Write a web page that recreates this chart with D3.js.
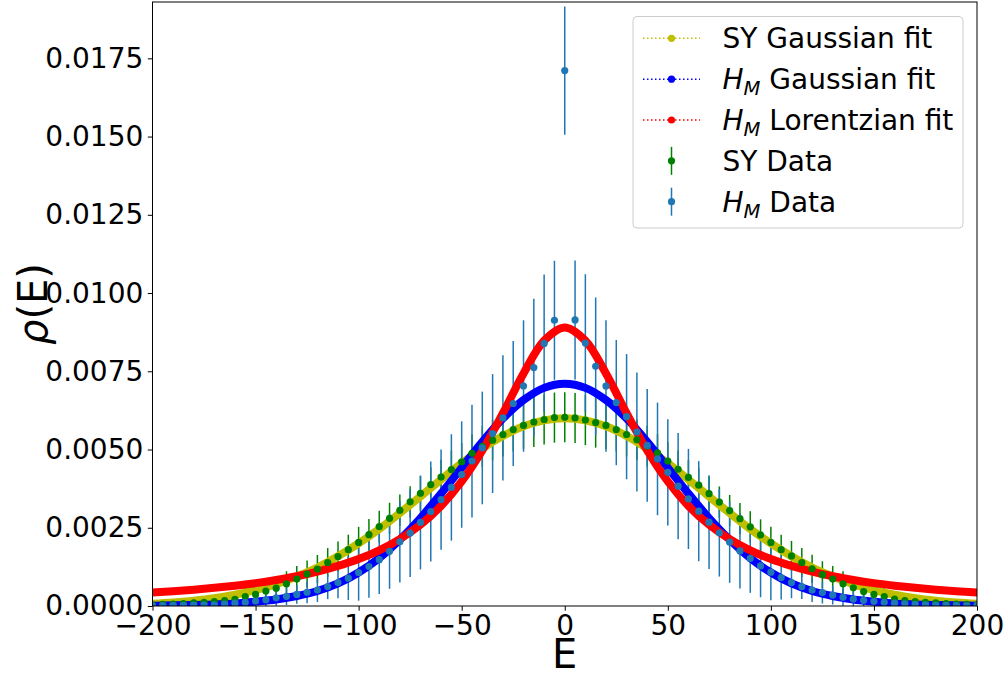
<!DOCTYPE html>
<html>
<head>
<meta charset="utf-8">
<script src="https://cdn.jsdelivr.net/npm/d3@7"></script>
<style>
  body { margin: 0; background: #fff; }
  svg text { font-family: "DejaVu Sans", sans-serif; fill: #000; }
</style>
</head>
<body>
<div id="vis"></div>
<script>
////////////////////////////////////////
////////////// Data ////////////////////
////////////////////////////////////////

// data points every 5 in E, fit curves sampled every 10
const dataE = d3.range(-200, 201, 5)
const fitE = d3.range(-200, 201, 10)

const syData = [
  0.00004, 0.00005, 0.00006, 0.00008, 0.00010, 0.00012, 0.00014, 0.00017, 0.00021, 0.00030,
  0.00037, 0.00048, 0.00057, 0.00071, 0.00086, 0.00102, 0.00118, 0.00139, 0.00158, 0.00180,
  0.00203, 0.00228, 0.00254, 0.00280, 0.00306, 0.00333, 0.00360, 0.00388, 0.00412, 0.00436,
  0.00461, 0.00488, 0.00510, 0.00530, 0.00548, 0.00564, 0.00577, 0.00588, 0.00596, 0.00602,
  0.00603,
  0.00601, 0.00594, 0.00586, 0.00577, 0.00564, 0.00548, 0.00531, 0.00511, 0.00489, 0.00463,
  0.00437, 0.00411, 0.00386, 0.00359, 0.00332, 0.00305, 0.00279, 0.00253, 0.00227, 0.00203,
  0.00180, 0.00160, 0.00139, 0.00119, 0.00100, 0.00086, 0.00071, 0.00058, 0.00046, 0.00037,
  0.00030, 0.00022, 0.00017, 0.00014, 0.00012, 0.00010, 0.00008, 0.00006, 0.00005, 0.00004
]

const hmData = [
  0.00001, 0.00001, 0.00002, 0.00002, 0.00003, 0.00003, 0.00004, 0.00006, 0.00009, 0.00012,
  0.00016, 0.00020, 0.00026, 0.00031, 0.00037, 0.00044, 0.00051, 0.00062, 0.00075, 0.00089,
  0.00107, 0.00126, 0.00148, 0.00175, 0.00205, 0.00233, 0.00267, 0.00302, 0.00340, 0.00379,
  0.00420, 0.00463, 0.00505, 0.00551, 0.00601, 0.00647, 0.00703, 0.00762, 0.00839, 0.00913,
  0.01711,
  0.00914, 0.00840, 0.00766, 0.00703, 0.00650, 0.00605, 0.00556, 0.00513, 0.00470, 0.00427,
  0.00383, 0.00342, 0.00303, 0.00268, 0.00234, 0.00204, 0.00176, 0.00152, 0.00128, 0.00108,
  0.00091, 0.00075, 0.00062, 0.00051, 0.00043, 0.00035, 0.00028, 0.00022, 0.00018, 0.00015,
  0.00012, 0.00009, 0.00007, 0.00005, 0.00004, 0.00003, 0.00002, 0.00002, 0.00001, 0.00001
]

// error half-lengths by |E| = 0, 5, ..., 200
const syErr = [
  0.00080, 0.00080, 0.00080, 0.00080, 0.00075, 0.00070, 0.00070, 0.00065, 0.00065, 0.00060,
  0.00060, 0.00060, 0.00055, 0.00055, 0.00055, 0.00050, 0.00050, 0.00050, 0.00050, 0.00050,
  0.00050, 0.00048, 0.00048, 0.00046, 0.00045, 0.00043, 0.00042, 0.00040, 0.00038, 0.00035,
  0.00032, 0.00028, 0.00025, 0.00022, 0.00020, 0.00017, 0.00015, 0.00012, 0.00010, 0.00008,
  0.00006
]

const hmErr = [
  0.00205, 0.00190, 0.00220, 0.00220, 0.00210, 0.00200, 0.00200, 0.00190, 0.00180, 0.00180,
  0.00170, 0.00170, 0.00160, 0.00160, 0.00150, 0.00140, 0.00130, 0.00120, 0.00110, 0.00100,
  0.00090, 0.00070, 0.00050, 0.00040, 0.00038, 0.00035, 0.00030, 0.00028, 0.00025, 0.00022,
  0.00020, 0.00018, 0.00015, 0.00012, 0.00010, 0.00008, 0.00007, 0.00006, 0.00005, 0.00004,
  0.00003
]

const syGaussFit = [
  0.00007, 0.00011, 0.00017, 0.00025, 0.00036, 0.00051, 0.00070, 0.00094, 0.00123, 0.00159,
  0.00200, 0.00246, 0.00297, 0.00350, 0.00404, 0.00456, 0.00503, 0.00543, 0.00574, 0.00593,
  0.00600,
  0.00593, 0.00574, 0.00543, 0.00503, 0.00456, 0.00404, 0.00350, 0.00297, 0.00246, 0.00200,
  0.00159, 0.00123, 0.00094, 0.00070, 0.00051, 0.00036, 0.00025, 0.00017, 0.00011, 0.00007
]

const hmGaussFit = [
  0.00001, 0.00002, 0.00003, 0.00005, 0.00008, 0.00014, 0.00021, 0.00032, 0.00048, 0.00072,
  0.00107, 0.00153, 0.00212, 0.00281, 0.00359, 0.00442, 0.00525, 0.00599, 0.00658, 0.00697,
  0.00710,
  0.00697, 0.00658, 0.00599, 0.00525, 0.00442, 0.00359, 0.00281, 0.00212, 0.00153, 0.00107,
  0.00072, 0.00048, 0.00032, 0.00021, 0.00014, 0.00008, 0.00005, 0.00003, 0.00002, 0.00001
]

const hmLorentzFit = [
  0.00043, 0.00047, 0.00052, 0.00058, 0.00065, 0.00073, 0.00083, 0.00095, 0.00110, 0.00128,
  0.00150, 0.00178, 0.00214, 0.00260, 0.00320, 0.00398, 0.00497, 0.00616, 0.00743, 0.00848,
  0.00890,
  0.00848, 0.00743, 0.00616, 0.00497, 0.00398, 0.00320, 0.00260, 0.00214, 0.00178, 0.00150,
  0.00128, 0.00110, 0.00095, 0.00083, 0.00073, 0.00065, 0.00058, 0.00052, 0.00047, 0.00043
]

const xTicks = [-200, -150, -100, -50, 0, 50, 100, 150, 200]
const yTicks = [0, 0.0025, 0.005, 0.0075, 0.01, 0.0125, 0.015, 0.0175]

////////////////////////////////////////
////////////// SVG Setup ///////////////
////////////////////////////////////////

const W = 1008, H = 677
const plot = { left: 152.5, right: 977, top: 2, bottom: 606 }
const fs = 28

const svg = d3.select('#vis').append('svg')
  .attr('width', W)
  .attr('height', H)

svg.append('defs').append('clipPath').attr('id', 'clip')
  .append('rect')
  .attr('x', plot.left).attr('y', plot.top)
  .attr('width', plot.right - plot.left).attr('height', plot.bottom - plot.top)

////////////////////////////////////////
////////////// Scales //////////////////
////////////////////////////////////////

const x = d3.scaleLinear().domain([-200, 200]).range([plot.left, plot.right])
const y = d3.scaleLinear().domain([0, 0.0193]).range([plot.bottom, plot.top])

const minus = d => d < 0 ? '\u2212' + Math.abs(d) : String(d)

////////////////////////////////////////
////////////// Marks ///////////////////
////////////////////////////////////////

const g = svg.append('g').attr('clip-path', 'url(#clip)')

const sy = dataE.map((e, i) => ({ e, v: syData[i], err: syErr[Math.abs(e) / 5] }))
const hm = dataE.map((e, i) => ({ e, v: hmData[i], err: hmErr[Math.abs(e) / 5] }))

// error bars under the fits
g.selectAll('.syBar').data(sy).join('line')
  .attr('x1', d => x(d.e)).attr('x2', d => x(d.e))
  .attr('y1', d => y(d.v - d.err)).attr('y2', d => y(d.v + d.err))
  .attr('stroke', '#008000').attr('stroke-width', 1.5)

g.selectAll('.hmBar').data(hm).join('line')
  .attr('x1', d => x(d.e)).attr('x2', d => x(d.e))
  .attr('y1', d => y(d.v - d.err)).attr('y2', d => y(d.v + d.err))
  .attr('stroke', '#1f77b4').attr('stroke-width', 1.5)

const line = d3.line()
  .x((d, i) => x(fitE[i]))
  .y(d => y(d))
  .curve(d3.curveCatmullRom)

const fits = [
  { values: syGaussFit, color: '#bfbf00' },
  { values: hmGaussFit, color: '#0000ff' },
  { values: hmLorentzFit, color: '#ff0000' }
]

g.selectAll('.fit').data(fits).join('path')
  .attr('d', d => line(d.values))
  .attr('fill', 'none')
  .attr('stroke', d => d.color)
  .attr('stroke-width', 8)
  .attr('stroke-linecap', 'round')
  .attr('stroke-linejoin', 'round')

g.selectAll('.syDot').data(sy).join('circle')
  .attr('cx', d => x(d.e)).attr('cy', d => y(d.v))
  .attr('r', 3.6).attr('fill', '#008000')

g.selectAll('.hmDot').data(hm).join('circle')
  .attr('cx', d => x(d.e)).attr('cy', d => y(d.v))
  .attr('r', 3.6).attr('fill', '#1f77b4')

////////////////////////////////////////
////////////// Axes ////////////////////
////////////////////////////////////////

const xAxis = svg.append('g')
  .attr('transform', `translate(0, ${plot.bottom})`)
  .call(d3.axisBottom(x).tickValues(xTicks).tickFormat(minus).tickSize(4.7).tickPadding(4.5))
const yAxis = svg.append('g')
  .attr('transform', `translate(${plot.left}, 0)`)
  .call(d3.axisLeft(y).tickValues(yTicks).tickFormat(d3.format('.4f')).tickSize(4.7).tickPadding(4.5))

for (const ax of [xAxis, yAxis]) {
  ax.select('.domain').remove()
  ax.selectAll('text').attr('font-size', fs).attr('font-family', 'DejaVu Sans')
  ax.selectAll('line').attr('stroke', '#000').attr('stroke-width', 1)
}

svg.append('rect')
  .attr('x', plot.left).attr('y', plot.top)
  .attr('width', plot.right - plot.left).attr('height', plot.bottom - plot.top)
  .attr('fill', 'none').attr('stroke', '#000').attr('stroke-width', 1)

svg.append('text')
  .attr('x', (plot.left + plot.right) / 2).attr('y', 668)
  .attr('text-anchor', 'middle').attr('font-size', 40)
  .text('E')

svg.append('text')
  .attr('transform', `translate(47, ${(plot.top + plot.bottom) / 2}) rotate(-90)`)
  .attr('text-anchor', 'middle').attr('font-size', 40)
  .call(t => {
    t.append('tspan').attr('font-style', 'italic').text('\u03c1')
    t.append('tspan').text('(E)')
  })

////////////////////////////////////////
////////////// Legend //////////////////
////////////////////////////////////////

const legend = svg.append('g')
legend.append('rect')
  .attr('x', 633).attr('y', 16.5).attr('width', 330).attr('height', 211.5)
  .attr('rx', 4).attr('fill', '#fff').attr('fill-opacity', 0.8)
  .attr('stroke', '#cccccc').attr('stroke-width', 1)

const entries = [
  { kind: 'fit', color: '#bfbf00', label: [['SY Gaussian fit', 'n']] },
  { kind: 'fit', color: '#0000ff', label: [['H', 'i'], ['M', 's'], [' Gaussian fit', 'n']] },
  { kind: 'fit', color: '#ff0000', label: [['H', 'i'], ['M', 's'], [' Lorentzian fit', 'n']] },
  { kind: 'err', color: '#008000', label: [['SY Data', 'n']] },
  { kind: 'err', color: '#1f77b4', label: [['H', 'i'], ['M', 's'], [' Data', 'n']] }
]

const rowY = i => 38.3 + i * 40.85

entries.forEach((en, i) => {
  const cy = rowY(i)
  const row = legend.append('g')
  if (en.kind === 'fit') {
    row.append('line')
      .attr('x1', 643).attr('x2', 700).attr('y1', cy).attr('y2', cy)
      .attr('stroke', en.color).attr('stroke-width', 1.5).attr('stroke-dasharray', '1.5,2.5')
  } else {
    row.append('line')
      .attr('x1', 671.5).attr('x2', 671.5).attr('y1', cy - 14).attr('y2', cy + 14)
      .attr('stroke', en.color).attr('stroke-width', 1.5)
  }
  row.append('circle').attr('cx', 671.5).attr('cy', cy).attr('r', 3.6).attr('fill', en.color)

  const t = row.append('text').attr('x', 722.5).attr('y', cy + 10).attr('font-size', fs)
  en.label.forEach(([s, k]) => {
    const ts = t.append('tspan').text(s)
    if (k === 'i') ts.attr('font-style', 'italic')
    if (k === 's') ts.attr('font-style', 'italic').attr('font-size', fs * 0.7).attr('dy', 6)
    if (k === 'n' && s.startsWith(' ') && en.label.length > 1) ts.attr('dy', -6)
  })
})
</script>
</body>
</html>
